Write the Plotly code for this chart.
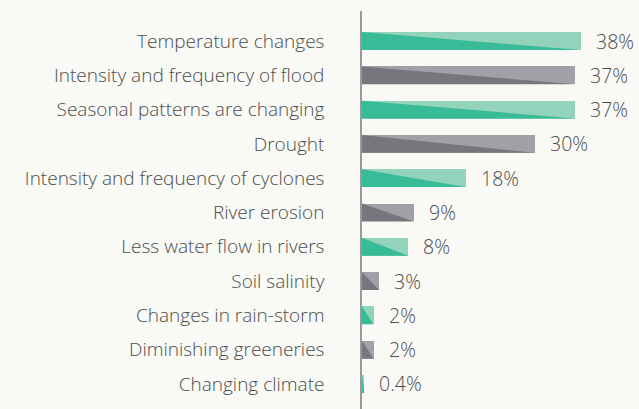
import plotly.graph_objects as go

# Survey: perceived climate change impacts (% of respondents)
categories = [
    "Temperature changes",
    "Intensity and frequency of flood",
    "Seasonal patterns are changing",
    "Drought",
    "Intensity and frequency of cyclones",
    "River erosion",
    "Less water flow in rivers",
    "Soil salinity",
    "Changes in rain-storm",
    "Diminishing greeneries",
    "Changing climate",
]
values = [38, 37, 37, 30, 18, 9, 8, 3, 2, 2, 0.4]
value_labels = ["38%", "37%", "37%", "30%", "18%", "9%", "8%", "3%", "2%", "2%", "0.4%"]

TEAL_LIGHT, TEAL_DARK = "#92d3bb", "#38bc97"
GREY_LIGHT, GREY_DARK = "#a0a1a6", "#76777c"
BG = "#f9f9f5"
TEXT = "#4d4d4d"
FONT = "Open Sans"
HALF = 0.26  # half of bar thickness in category units

ypos = list(range(len(categories)))
light = [TEAL_LIGHT if i % 2 == 0 else GREY_LIGHT for i in ypos]
dark = [TEAL_DARK if i % 2 == 0 else GREY_DARK for i in ypos]

fig = go.Figure()

# Light base bars
fig.add_trace(go.Bar(
    x=values, y=ypos, orientation="h", width=2 * HALF,
    marker=dict(color=light, line=dict(width=0)),
    hoverinfo="skip", showlegend=False,
))

# Darker lower-left triangle on each bar
for i, v in enumerate(values):
    fig.add_trace(go.Scatter(
        x=[0, 0, v, 0], y=[i + HALF, i - HALF, i + HALF, i + HALF],
        mode="lines", fill="toself", fillcolor=dark[i],
        line=dict(width=0, color=dark[i]),
        hoverinfo="skip", showlegend=False,
    ))

# Value labels
for i, (v, t) in enumerate(zip(values, value_labels)):
    fig.add_annotation(
        x=v, y=i, text=t, showarrow=False, xanchor="left", yanchor="middle",
        xshift=13, font=dict(family=FONT, size=19.5, color=TEXT, weight=300),
    )

fig.update_layout(
    width=639, height=409,
    margin=dict(l=362, r=0, t=11, b=0),
    paper_bgcolor=BG, plot_bgcolor=BG,
    bargap=0,
    xaxis=dict(range=[0, 277 / 5.75], visible=False, fixedrange=True),
    yaxis=dict(
        range=[len(categories) - 1 + 0.73, -0.875],
        tickmode="array", tickvals=ypos, ticktext=categories,
        showgrid=False, zeroline=False,
        showline=True, linecolor="#9a9a9a", linewidth=1.5,
        ticks="", ticklabelstandoff=32,
        tickfont=dict(family=FONT, size=19, color=TEXT, weight=300),
    ),
    font=dict(family=FONT),
)

fig.write_html("out.html")
